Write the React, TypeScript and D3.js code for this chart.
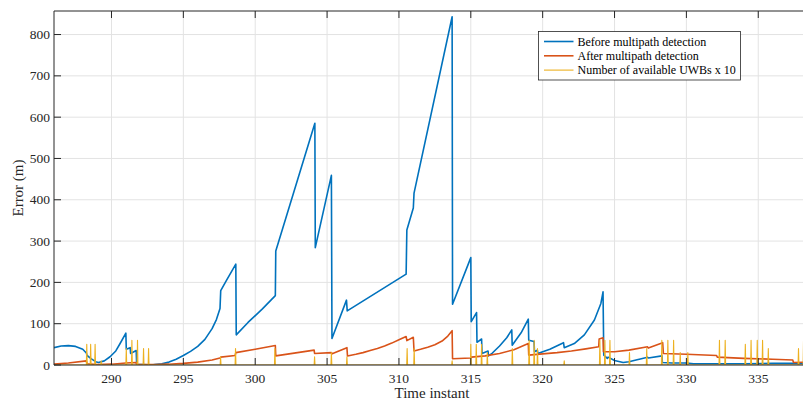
import React from "react";
import * as d3 from "d3";

// Positioning error over time, before and after multipath detection
const beforeDetection: [number, number][] = [
  [286.0, 42], [286.5, 46], [287.0, 47], [287.5, 45], [288.0, 38], [288.25, 29],
  [288.3, 23], [288.6, 15], [288.9, 8], [289.1, 6], [289.5, 10], [289.9, 20],
  [290.3, 34], [290.6, 52], [291.0, 77], [291.03, 38], [291.3, 42], [291.33, 28],
  [291.72, 35], [291.75, 2], [292.2, 1], [292.8, 0], [293.0, 1], [293.5, 3],
  [294.0, 7], [294.5, 14], [295.0, 23], [295.5, 33], [296.0, 45], [296.5, 62],
  [297.0, 88], [297.3, 110], [297.55, 137], [297.6, 180], [298.0, 205],
  [298.65, 244], [298.68, 73], [299.5, 103], [300.5, 136], [301.4, 168],
  [301.43, 276], [304.15, 585], [304.18, 284], [305.3, 459], [305.34, 64],
  [306.35, 157], [306.4, 131], [310.5, 220], [310.55, 327], [311.0, 380],
  [311.05, 416], [313.7, 843], [313.73, 147], [315.0, 260], [315.03, 105],
  [315.4, 127], [315.43, 55], [315.75, 63], [315.78, 28], [316.2, 34],
  [316.23, 22], [316.5, 29], [317.0, 46], [317.5, 66], [317.85, 85],
  [317.88, 48], [318.5, 78], [319.0, 111], [319.03, 60], [319.4, 57],
  [319.43, 32], [319.63, 36], [319.66, 28], [320.5, 38], [321.45, 54],
  [321.5, 42], [322.2, 52], [322.9, 73], [323.6, 109], [324.05, 149],
  [324.2, 177], [324.25, 24], [324.5, 16], [324.55, 19], [325.0, 11],
  [325.6, 6], [326.0, 8], [326.5, 12], [327.3, 19], [327.35, 17], [328.3, 22],
  [328.33, 6], [329.0, 5], [330.0, 5], [330.5, 3], [332.0, 3], [334.0, 3],
  [336.0, 4], [338.6, 4],
];

const afterDetection: [number, number][] = [
  [286.0, 2], [287.0, 5], [288.25, 10], [288.3, 3], [289.0, 1], [290.0, 2],
  [291.0, 5], [291.72, 6], [291.75, 1], [293.0, 1], [294.0, 2], [295.0, 4],
  [296.0, 7], [297.0, 12], [297.55, 17], [297.6, 19], [298.6, 23], [298.65, 30],
  [300.0, 38], [301.4, 47], [301.43, 22], [304.1, 36], [304.13, 28],
  [305.3, 30], [305.35, 27], [306.38, 42], [306.42, 22], [307.0, 26],
  [307.5, 30], [308.0, 35], [308.5, 40], [309.0, 46], [309.5, 53], [310.0, 61],
  [310.5, 69], [310.55, 59], [311.0, 67], [311.05, 34], [311.5, 38],
  [312.0, 43], [312.5, 49], [313.0, 58], [313.4, 70], [313.7, 83],
  [313.73, 15], [315.0, 17], [315.03, 19], [316.0, 22], [317.0, 28],
  [318.0, 37], [319.0, 52], [319.03, 24], [320.0, 27], [321.0, 30],
  [322.0, 34], [323.0, 39], [323.9, 44], [323.93, 63], [324.2, 66],
  [324.23, 32], [325.0, 32], [326.0, 36], [327.3, 44], [327.35, 41],
  [328.35, 54], [328.4, 28], [330.0, 26], [332.1, 23], [332.15, 19],
  [334.0, 16], [336.0, 14], [337.4, 12], [337.45, 6], [338.6, 7],
];

// Instants where UWB anchors were available, and how many
const uwbTimes = [
  288.28, 288.55, 288.86, 289.28, 291.03, 291.42, 291.81, 292.23, 292.58,
  297.59, 298.63, 301.37, 304.13, 305.3, 306.38, 310.57, 311.06, 313.7,
  315.0, 315.38, 315.75, 316.15, 317.89, 319.06, 319.41, 319.64, 321.5,
  323.98, 324.33, 324.68, 326.04, 327.24, 328.29, 328.71, 329.11, 329.57,
  330.1, 332.3, 332.7, 334.1, 334.5, 334.93, 335.3, 335.7, 337.8, 338.15,
  338.5,
];
const uwbCounts = [
  5, 5, 5, 1, 4, 6, 6, 4, 4,
  2, 4, 4, 2, 3, 2, 4, 4, 1,
  5, 5, 5, 3, 4, 6, 6, 4, 1,
  6, 6, 6, 3, 4, 6, 6, 6, 3,
  3, 6, 6, 5, 6, 6, 6, 4, 4, 6,
  5,
];
const uwbScale = 10;

const xTicks = [290, 295, 300, 305, 310, 315, 320, 325, 330, 335];
const yTicks = [0, 100, 200, 300, 400, 500, 600, 700, 800];
const xDomain: [number, number] = [286, 338.6];
const yDomain: [number, number] = [0, 857];

const legendItems = [
  { label: "Before multipath detection", color: "#0072BD", width: 1.6 },
  { label: "After multipath detection", color: "#D95319", width: 1.6 },
  { label: "Number of available UWBs x 10", color: "#EDB120", width: 1.1 },
];

const W = 803;
const H = 403;
const M = { left: 54, top: 11, right: 810, bottom: 365 };
const FONT = "'Liberation Serif', 'Times New Roman', serif";
const AXIS = "#262626";

export default function App() {
  const x = d3.scaleLinear().domain(xDomain).range([M.left, M.right]);
  const y = d3.scaleLinear().domain(yDomain).range([M.bottom, M.top]);

  const line = d3
    .line<[number, number]>()
    .x((d) => x(d[0]))
    .y((d) => y(d[1]));

  // UWB series: zero baseline with a narrow spike at each availability instant
  const uwbSeries: [number, number][] = [[xDomain[0], 0]];
  uwbTimes.forEach((t, i) => {
    uwbSeries.push([t - 0.03, 0], [t, uwbCounts[i] * uwbScale], [t + 0.03, 0]);
  });
  uwbSeries.push([xDomain[1], 0]);

  const tickLen = 7;

  return (
    <div style={{ position: "fixed", left: 0, top: 0, background: "#fff" }}>
      <svg width={W} height={H} style={{ display: "block" }}>
        <rect x={0} y={0} width={W} height={H} fill="#fff" />
        <defs>
          <clipPath id="plot-area">
            <rect x={M.left} y={M.top} width={M.right - M.left} height={M.bottom - M.top} />
          </clipPath>
        </defs>

        {/* grid */}
        <g stroke="#e3e3e3" strokeWidth={1}>
          {xTicks.map((t) => (
            <line key={"gx" + t} x1={x(t)} x2={x(t)} y1={M.top} y2={M.bottom} />
          ))}
          {yTicks.map((t) => (
            <line key={"gy" + t} x1={M.left} x2={M.right} y1={y(t)} y2={y(t)} />
          ))}
        </g>

        {/* series */}
        <g clipPath="url(#plot-area)" fill="none" strokeLinejoin="round">
          <path d={line(beforeDetection) || ""} stroke="#0072BD" strokeWidth={1.6} />
          <path d={line(afterDetection) || ""} stroke="#D95319" strokeWidth={1.6} />
          <path d={line(uwbSeries) || ""} stroke="#EDB120" strokeWidth={1.1} />
        </g>

        {/* axes box and inward ticks */}
        <g stroke={AXIS} strokeWidth={1} fill="none">
          <line x1={M.left} x2={M.right} y1={M.top} y2={M.top} />
          <line x1={M.left} x2={M.right} y1={M.bottom} y2={M.bottom} />
          <line x1={M.left} x2={M.left} y1={M.top} y2={M.bottom} />
          {xTicks.map((t) => (
            <g key={"tx" + t}>
              <line x1={x(t)} x2={x(t)} y1={M.bottom} y2={M.bottom - tickLen} />
              <line x1={x(t)} x2={x(t)} y1={M.top} y2={M.top + tickLen} />
            </g>
          ))}
          {yTicks.map((t) => (
            <line key={"ty" + t} x1={M.left} x2={M.left + tickLen} y1={y(t)} y2={y(t)} />
          ))}
        </g>

        {/* tick labels */}
        <g fontFamily={FONT} fontSize={13.5} fill={AXIS}>
          {xTicks.map((t) => (
            <text key={"lx" + t} x={x(t)} y={M.bottom + 18} textAnchor="middle">
              {t}
            </text>
          ))}
          {yTicks.map((t) => (
            <text key={"ly" + t} x={M.left - 4} y={y(t) + 4.5} textAnchor="end">
              {t}
            </text>
          ))}
        </g>

        {/* axis titles */}
        <text
          x={(M.left + M.right) / 2}
          y={M.bottom + 33}
          textAnchor="middle"
          fontFamily={FONT}
          fontSize={15}
          fill={AXIS}
        >
          Time instant
        </text>
        <text
          transform={`translate(23, ${(M.top + M.bottom) / 2}) rotate(-90)`}
          textAnchor="middle"
          fontFamily={FONT}
          fontSize={15}
          fill={AXIS}
        >
          Error (m)
        </text>

        {/* legend */}
        <g transform="translate(538.5, 31.5)">
          <rect x={0} y={0} width={202} height={48.5} fill="#fff" stroke={AXIS} strokeWidth={0.8} />
          {legendItems.map((item, i) => (
            <g key={item.label} transform={`translate(0, ${10 + i * 14.3})`}>
              <line x1={5.5} x2={35} y1={0} y2={0} stroke={item.color} strokeWidth={item.width} />
              <text x={39} y={4} fontFamily={FONT} fontSize={12} fill="#000">
                {item.label}
              </text>
            </g>
          ))}
        </g>
      </svg>
    </div>
  );
}
